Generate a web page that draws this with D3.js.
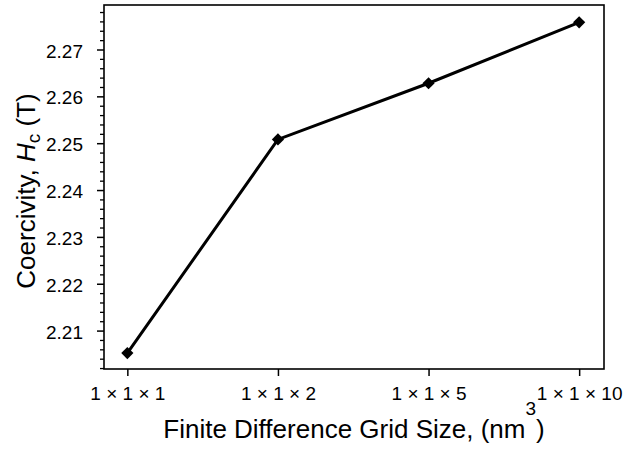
<!DOCTYPE html>
<html>
<head>
<meta charset="utf-8">
<script src="https://cdn.jsdelivr.net/npm/d3@7"></script>
<style>
body { margin: 0; background: #fff; }
text { font-family: "Liberation Sans", Arial, sans-serif; fill: #000; }
</style>
</head>
<body>
<div id="chart"></div>
<script>
var svgWidth = 625;
var svgHeight = 450;

var margin = { top: 5, right: 21, bottom: 81, left: 104 };
var width = svgWidth - margin.left - margin.right;
var height = svgHeight - margin.top - margin.bottom;

// data
var gridLabels = ["1 \u00d7 1 \u00d7 1", "1 \u00d7 1 \u00d7 2", "1 \u00d7 1 \u00d7 5", "1 \u00d7 1 \u00d7 10"];
var coercivity = [2.2052, 2.2508, 2.2628, 2.2758];
var yTicks = [2.21, 2.22, 2.23, 2.24, 2.25, 2.26, 2.27];

var svg = d3.select("#chart")
  .append("svg")
  .attr("width", svgWidth)
  .attr("height", svgHeight);

var chartGroup = svg.append("g")
  .attr("transform", `translate(${margin.left}, ${margin.top})`);

var xScale = d3.scaleLinear()
  .domain([-0.155, gridLabels.length - 1 + 0.165])
  .range([0, width]);

var yScale = d3.scaleLinear()
  .domain([2.2018, 2.2795])
  .range([height, 0]);

// minor y ticks
var minorTicks = d3.range(2.202, 2.2795, 0.002).filter(function(v) {
  return Math.abs(Math.round(v * 100) - v * 100) > 0.05;
});
chartGroup.append("g")
  .call(d3.axisLeft(yScale).tickValues(minorTicks).tickSize(4).tickFormat(""))
  .call(g => g.select(".domain").remove())
  .selectAll("line").attr("stroke-width", 1.3);

// major y ticks
var yAxis = chartGroup.append("g")
  .call(d3.axisLeft(yScale).tickValues(yTicks).tickSize(7).tickPadding(14).tickFormat(d3.format(".2f")));
yAxis.select(".domain").remove();
yAxis.selectAll("line").attr("stroke-width", 1.5);
yAxis.selectAll("text").style("font-size", "19px").attr("dy", "0.4em");

// x ticks
var xAxis = chartGroup.append("g")
  .attr("transform", `translate(0, ${height})`)
  .call(d3.axisBottom(xScale).tickValues(d3.range(gridLabels.length)).tickSize(7).tickPadding(11).tickFormat(i => gridLabels[i]));
xAxis.select(".domain").remove();
xAxis.selectAll("line").attr("stroke-width", 1.5);
xAxis.selectAll("text").style("font-size", "19px");

// frame
chartGroup.append("rect")
  .attr("width", width)
  .attr("height", height)
  .attr("fill", "none")
  .attr("stroke", "#000")
  .attr("stroke-width", 1.6);

// line
var line = d3.line()
  .x((d, i) => xScale(i))
  .y(d => yScale(d));

chartGroup.append("path")
  .datum(coercivity)
  .attr("d", line)
  .attr("fill", "none")
  .attr("stroke", "#000")
  .attr("stroke-width", 3);

chartGroup.selectAll(".pt")
  .data(coercivity)
  .enter()
  .append("path")
  .attr("class", "pt")
  .attr("transform", (d, i) => `translate(${xScale(i)}, ${yScale(d)})`)
  .attr("d", d3.symbol().type(d3.symbolDiamond2).size(95))
  .attr("fill", "#000");

// axis labels
var xLabel = svg.append("text")
  .attr("x", margin.left + width / 2)
  .attr("y", 438)
  .attr("text-anchor", "middle")
  .style("font-size", "26px");
xLabel.append("tspan").text("Finite Difference Grid Size, (nm");
xLabel.append("tspan").attr("dy", -23).style("font-size", "19px").text("3");
xLabel.append("tspan").attr("dy", 23).text(")");

var yLabel = svg.append("text")
  .attr("transform", `translate(35, 191) rotate(-90)`)
  .attr("text-anchor", "middle")
  .style("font-size", "26px");
yLabel.append("tspan").text("Coercivity, ");
yLabel.append("tspan").style("font-style", "italic").text("H");
yLabel.append("tspan").attr("dy", 5).style("font-size", "19px").text("c");
yLabel.append("tspan").attr("dy", -5).text(" (T)");
</script>
</body>
</html>
